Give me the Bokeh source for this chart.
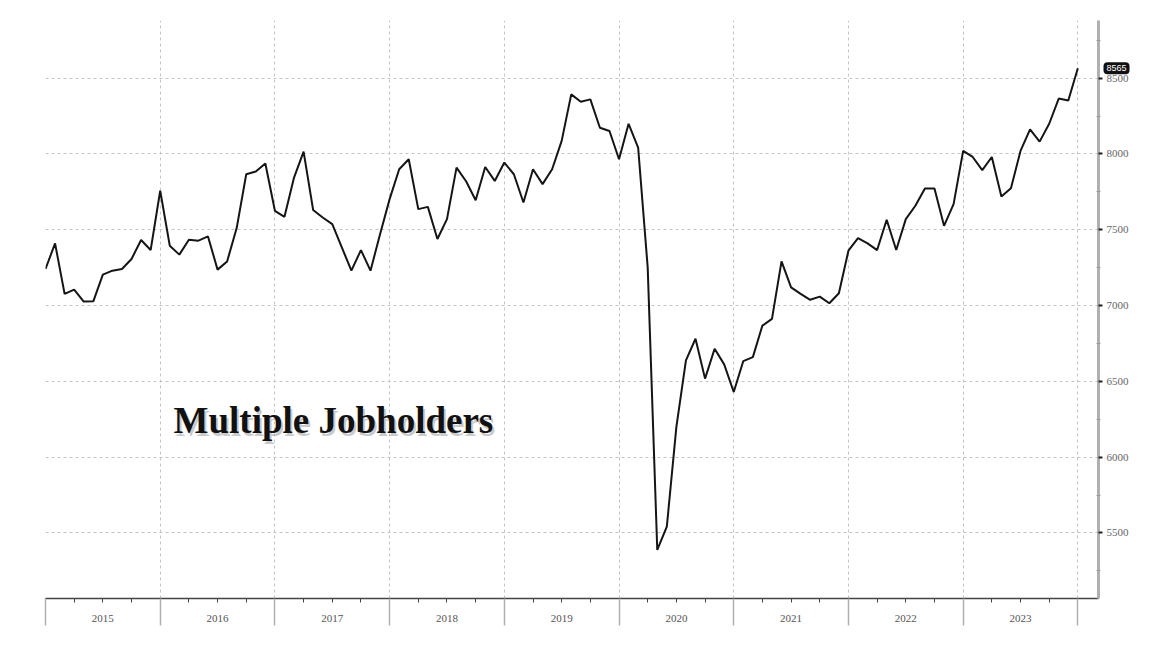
from bokeh.plotting import figure
from bokeh.models import FixedTicker, Range1d, Label
from bokeh.embed import file_html
from bokeh.resources import INLINE

# Monthly data, Dec 2014 .. Dec 2023 (thousands)
years = ["2015", "2016", "2017", "2018", "2019", "2020", "2021", "2022", "2023"]
jobholders = [
    7241,
    7410, 7077, 7105, 7026, 7028, 7204, 7230, 7241, 7307, 7432, 7366, 7757,
    7395, 7336, 7434, 7428, 7456, 7237, 7291, 7511, 7866, 7884, 7937, 7625,
    7585, 7844, 8015, 7630, 7581, 7537, 7384, 7230, 7366, 7230, 7471, 7702,
    7899, 7965, 7636, 7651, 7439, 7570, 7910, 7820, 7695, 7914, 7822, 7943,
    7866, 7680, 7899, 7801, 7899, 8086, 8393, 8344, 8360, 8173, 8151, 7965,
    8199, 8042, 7250, 5388, 5542, 6200, 6638, 6781, 6518, 6715, 6612, 6430,
    6634, 6660, 6868, 6912, 7291, 7120, 7077, 7038, 7059, 7015, 7081, 7362,
    7445, 7410, 7366, 7566, 7366, 7570, 7658, 7772, 7772, 7526, 7669, 8020,
    7980, 7893, 7980, 7719, 7774, 8020, 8162, 8081, 8199, 8365, 8352, 8565,
]
months = list(range(len(jobholders)))
y_ticks = [5500, 6000, 6500, 7000, 7500, 8000, 8500]
y_minor = [5250, 5750, 6250, 6750, 7250, 7750, 8250, 8750]
last_label = "8565"
title_text = "Multiple Jobholders"

boundaries = list(range(0, len(jobholders), 12))
quarters = list(range(0, len(jobholders), 3))
x_end = 110.16

p = figure(width=1157, height=653, output_backend="svg", toolbar_location=None,
           x_range=Range1d(0, x_end), y_range=Range1d(5068, 8880),
           y_axis_location="right",
           min_border_left=45, min_border_right=58, min_border_top=20, min_border_bottom=55)
p.outline_line_color = None
p.background_fill_color = "white"
p.border_fill_color = "white"

# grids
p.xgrid.ticker = FixedTicker(ticks=boundaries)
p.xgrid.grid_line_color = "#c4c4c4"
p.xgrid.grid_line_dash = "3 3"
p.ygrid.grid_line_color = "#c4c4c4"
p.ygrid.grid_line_dash = "3 3"

# x axis
xa = p.xaxis[0]
xa.ticker = FixedTicker(ticks=quarters, minor_ticks=boundaries)
overrides = {}
for q in quarters:
    if q % 12 == 6:
        overrides[q] = years[(q - 6) // 12]
    else:
        overrides[q] = ""
xa.major_label_overrides = overrides
xa.axis_line_color = "#444444"
xa.axis_line_width = 1.5
xa.major_tick_in = 0
xa.major_tick_out = 4
xa.major_tick_line_color = "#444444"
xa.minor_tick_in = 0
xa.minor_tick_out = 27
xa.minor_tick_line_color = "#b0b0b0"
xa.minor_tick_line_width = 1.5
xa.major_label_standoff = -11
xa.major_label_text_font = "Liberation Serif"
xa.major_label_text_font_size = "11px"
xa.major_label_text_color = "#555555"

# y axis (right)
ya = p.yaxis[0]
ya.ticker = FixedTicker(ticks=y_ticks, minor_ticks=y_minor)
ya.axis_line_color = "#b0b0b0"
ya.axis_line_width = 3
ya.major_tick_in = 0
ya.major_tick_out = 4
ya.major_tick_line_color = "#222222"
ya.major_tick_line_width = 2
ya.minor_tick_in = 2
ya.minor_tick_out = 2
ya.minor_tick_line_color = "#999999"
ya.major_label_standoff = 4
ya.major_label_text_font = "Liberation Serif"
ya.major_label_text_font_size = "11px"
ya.major_label_text_color = "#666666"

# data line
p.line(months, jobholders, line_color="#151515", line_width=2)

# last-value tag (placed in the right side panel so it is not clipped to the frame)
p.add_layout(Label(x=x_end, y=jobholders[-1], x_offset=5, text=last_label,
                   text_color="white", text_font="Liberation Sans", text_font_size="9px",
                   text_align="left", text_baseline="middle",
                   background_fill_color="#111111", border_radius=4, padding=3), "right")

# title with soft shadow
p.add_layout(Label(x=13.4, y=6242, x_offset=2, y_offset=-3, text=title_text,
                   text_font="Liberation Serif", text_font_style="bold", text_font_size="37px",
                   text_color="#888888", text_alpha=0.45, text_baseline="alphabetic"))
p.add_layout(Label(x=13.4, y=6242, text=title_text,
                   text_font="Liberation Serif", text_font_style="bold", text_font_size="37px",
                   text_color="#111111", text_baseline="alphabetic"))

open("out.html", "w").write(file_html(p, INLINE))
